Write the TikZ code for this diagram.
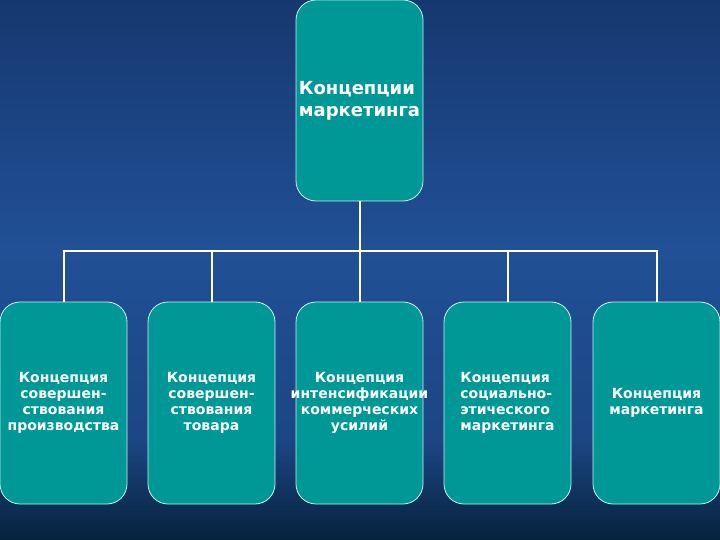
\documentclass[tikz,border=0pt]{standalone}
\usepackage{fontspec}
\setmainfont{DejaVu Sans}
\definecolor{bgtop}{RGB}{22,56,112}
\definecolor{bgmid}{RGB}{33,80,150}
\definecolor{bglow}{RGB}{28,70,132}
\definecolor{bgbot}{RGB}{6,34,60}
\definecolor{teal}{RGB}{0,152,150}
\definecolor{edge}{RGB}{200,240,240}
\tikzset{
  box/.style={draw=edge, line width=0.8pt, fill=teal, rounded corners=20pt,
    minimum width=127pt, minimum height=202pt, inner sep=0pt,
    text=white, font=\bfseries\fontsize{14}{16}\selectfont, align=center},
  conn/.style={draw=white, line width=2pt}
}
\begin{document}
\begin{tikzpicture}[x=1pt,y=1pt]
\shade[top color=bgtop, bottom color=bgmid] (0,0) rectangle (720,-250);
\shade[top color=bgmid, bottom color=bglow] (0,-250) rectangle (720,-440);
\shade[top color=bglow, bottom color=bgbot] (0,-440) rectangle (720,-540);
\useasboundingbox (0,0) rectangle (720,-540);
\node[box, minimum height=201pt, align=left, font=\bfseries\fontsize{18}{22}\selectfont] (top) at (359.5,-100.5) {Концепции\\маркетинга};
\node[box] (b1) at (63.5,-403) {Концепция\\совершен-\\ствования\\производства};
\node[box] (b2) at (211.5,-403) {Концепция\\совершен-\\ствования\\товара};
\node[box, inner xsep=-8pt] (b3) at (359.5,-403) {Концепция\\интенсификации\\коммерческих\\усилий};
\node[box, align=left] (b4) at (507.5,-403) {Концепция\\социально-\\этического\\маркетинга};
\node[box] (b5) at (656.5,-403) {Концепция\\маркетинга};
\coordinate (j) at (359.5,-251);
\draw[conn] (top.south) -- (j);
\draw[conn] (j) -| (b1.north);
\draw[conn] (j) -| (b2.north);
\draw[conn] (j) -- (b3.north);
\draw[conn] (j) -| (b4.north);
\draw[conn] (j) -| (b5.north);
\end{tikzpicture}
\end{document}
